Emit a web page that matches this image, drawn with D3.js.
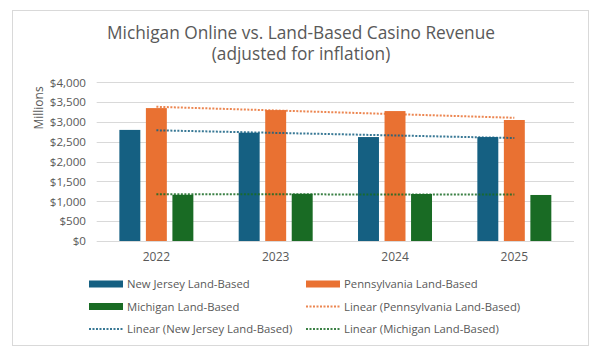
<!DOCTYPE html>
<html>
<head>
<meta charset="utf-8">
<script src="https://cdn.jsdelivr.net/npm/d3@7"></script>
<style>
  body { margin: 0; background: #fff; }
  text { font-family: "Open Sans", "Noto Sans", sans-serif; fill: #595959; }
</style>
</head>
<body>
<div class="chart"></div>
<script>
var years = ["2022", "2023", "2024", "2025"];
var seriesNames = ["New Jersey Land-Based", "Pennsylvania Land-Based", "Michigan Land-Based"];
var newJersey = [2800, 2730, 2620, 2620];
var pennsylvania = [3350, 3300, 3275, 3050];
var michigan = [1165, 1190, 1185, 1160];
var yTicks = [0, 500, 1000, 1500, 2000, 2500, 3000, 3500, 4000];
var colors = ["#156082", "#E97132", "#196B24"];

var values = [newJersey, pennsylvania, michigan];

var width = 600, height = 354;
var plotL = 96.7, plotR = 574, plotT = 82.3, plotB = 241;

var svg = d3.select(".chart").append("svg")
    .attr("width", width)
    .attr("height", height);

// chart frame
svg.append("rect")
    .attr("x", 12.5).attr("y", 10.5)
    .attr("width", 576).attr("height", 335)
    .attr("fill", "#fff")
    .attr("stroke", "#d9d9d9");

svg.append("text")
    .attr("x", 301).attr("y", 39)
    .attr("text-anchor", "middle")
    .style("font-size", "17.3px")
    .text("Michigan Online vs. Land-Based Casino Revenue");
svg.append("text")
    .attr("x", 301).attr("y", 60)
    .attr("text-anchor", "middle")
    .style("font-size", "17.3px")
    .text("(adjusted for inflation)");

var x = d3.scaleBand().domain(years).range([plotL, plotR]).paddingInner(0.38).paddingOuter(0.19);
var xs = d3.scaleBand().domain(seriesNames).range([0, x.bandwidth()]).paddingInner(0.21);
var y = d3.scaleLinear().domain([0, 4000]).range([plotB, plotT]);

// gridlines
svg.append("g")
    .selectAll("line")
    .data(yTicks)
    .join("line")
    .attr("x1", plotL).attr("x2", plotR)
    .attr("y1", function(d) { return Math.round(y(d)) + 0.5; })
    .attr("y2", function(d) { return Math.round(y(d)) + 0.5; })
    .attr("stroke", "#d9d9d9")
    .attr("stroke-width", 1);

var yAxis = d3.axisLeft(y)
    .tickValues(yTicks)
    .tickSize(0)
    .tickPadding(0)
    .tickFormat(function(d) { return "$" + d3.format(",")(d); });

svg.append("g")
    .attr("transform", "translate(86,0)")
    .call(yAxis)
    .call(function(g) { g.select(".domain").remove(); })
    .selectAll("text")
    .style("font-size", "11.6px")
    .attr("font-family", null)
    .attr("fill", "#595959");

var xAxis = d3.axisBottom(x).tickSize(0).tickPadding(0);
svg.append("g")
    .attr("transform", "translate(0," + (plotB + 11) + ")")
    .call(xAxis)
    .call(function(g) { g.select(".domain").remove(); })
    .selectAll("text")
    .style("font-size", "12px")
    .attr("font-family", null)
    .attr("fill", "#595959");

svg.append("text")
    .attr("transform", "rotate(-90)")
    .attr("x", -108).attr("y", 43)
    .attr("text-anchor", "middle")
    .style("font-size", "12px")
    .text("Millions");

// bars
values.forEach(function(vals, i) {
    svg.append("g")
        .selectAll("rect")
        .data(vals)
        .join("rect")
        .attr("x", function(d, j) { return x(years[j]) + xs(seriesNames[i]); })
        .attr("y", function(d) { return y(d); })
        .attr("width", xs.bandwidth())
        .attr("height", function(d) { return y(0) - y(d); })
        .attr("fill", colors[i]);
});

// linear trendlines (least squares, like Excel)
function trend(vals) {
    var n = vals.length, mx = (n + 1) / 2, my = d3.mean(vals);
    var num = 0, den = 0;
    vals.forEach(function(v, k) { num += (k + 1 - mx) * (v - my); den += (k + 1 - mx) * (k + 1 - mx); });
    var b = num / den;
    return vals.map(function(v, k) { return my + b * (k + 1 - mx); });
}

var line = d3.line()
    .x(function(d, j) { return x(years[j]) + x.bandwidth() / 2; })
    .y(function(d) { return y(d); });

[1, 0, 2].forEach(function(i) {
    svg.append("path")
        .datum(trend(values[i]))
        .attr("d", line)
        .attr("fill", "none")
        .attr("stroke", colors[i])
        .attr("stroke-opacity", 0.85)
        .attr("stroke-width", 2)
        .attr("stroke-dasharray", "2,1.5");
});

// legend
var legendItems = [
    {name: seriesNames[0], c: colors[0], dot: false},
    {name: seriesNames[1], c: colors[1], dot: false},
    {name: seriesNames[2], c: colors[2], dot: false},
    {name: "Linear (" + seriesNames[1] + ")", c: colors[1], dot: true},
    {name: "Linear (" + seriesNames[0] + ")", c: colors[0], dot: true},
    {name: "Linear (" + seriesNames[2] + ")", c: colors[2], dot: true}
];
var lg = svg.append("g").selectAll("g")
    .data(legendItems)
    .join("g")
    .attr("transform", function(d, i) {
        return "translate(" + (i % 2 ? 306 : 89) + "," + (284 + Math.floor(i / 2) * 22.5) + ")";
    });
lg.filter(function(d) { return !d.dot; }).append("rect")
    .attr("x", 0).attr("y", -3.5)
    .attr("width", 34).attr("height", 7)
    .attr("fill", function(d) { return d.c; });
lg.filter(function(d) { return d.dot; }).append("line")
    .attr("x1", 0).attr("x2", 34)
    .attr("y1", 0).attr("y2", 0)
    .attr("stroke", function(d) { return d.c; })
    .attr("stroke-opacity", 0.85)
    .attr("stroke-width", 2)
    .attr("stroke-dasharray", "2,1.5");
lg.append("text")
    .attr("x", 38).attr("y", 4)
    .style("font-size", "11.3px")
    .text(function(d) { return d.name; });
</script>
</body>
</html>
